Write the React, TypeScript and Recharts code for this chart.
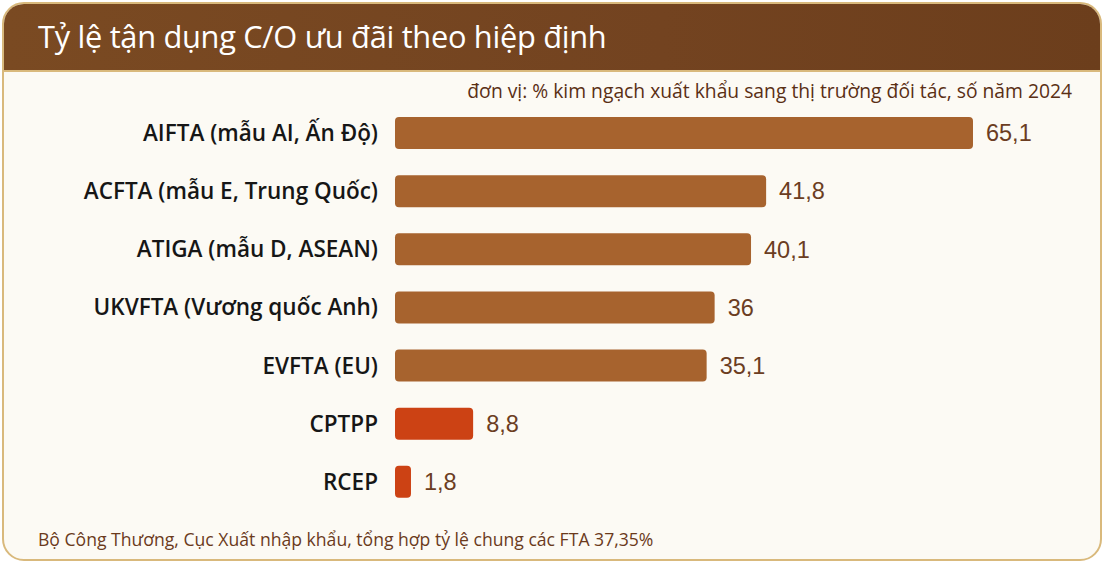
import React from 'react';
import { BarChart, Bar, XAxis, YAxis, Cell, LabelList } from 'recharts';

// Tỷ lệ tận dụng C/O ưu đãi, năm 2024 (%)
const agreements = [
    'AIFTA (mẫu AI, Ấn Độ)',
    'ACFTA (mẫu E, Trung Quốc)',
    'ATIGA (mẫu D, ASEAN)',
    'UKVFTA (Vương quốc Anh)',
    'EVFTA (EU)',
    'CPTPP',
    'RCEP'
];
const utilisation = [65.1, 41.8, 40.1, 36, 35.1, 8.8, 1.8];
const highlighted = [false, false, false, false, false, true, true];

const BROWN = '#a7632e';
const RED = '#cc4214';

const data = agreements.map((name, i) => ({
    name,
    value: utilisation[i],
    hot: highlighted[i]
}));

const formatValue = (v: any) => String(v).replace('.', ',');

const App: React.FC = () => {
    return (
        <div style={{ position: 'absolute', left: 0, top: 0, width: 1104, height: 564, background: '#ffffff' }}>
            <div
                style={{
                    position: 'absolute',
                    left: 2,
                    top: 2,
                    width: 1096,
                    height: 555,
                    border: '2px solid #d9b97c',
                    borderRadius: 22,
                    overflow: 'hidden',
                    background: '#fcfaf4'
                }}
            >
                <div
                    style={{
                        height: 66,
                        background: 'linear-gradient(90deg, #7a4a22 0%, #734320 60%, #6c3e1c 100%)',
                        borderBottom: '2px solid #d9b97c'
                    }}
                >
                    <div
                        style={{
                            position: 'absolute',
                            left: 34,
                            top: 11,
                            color: '#ffffff',
                            fontFamily: '"Open Sans", sans-serif',
                            fontSize: 30.8,
                            fontWeight: 500,
                            letterSpacing: -0.3
                        }}
                    >
                        Tỷ lệ tận dụng C/O ưu đãi theo hiệp định
                    </div>
                </div>
                <div
                    style={{
                        position: 'absolute',
                        right: 28,
                        top: 73,
                        color: '#5a2f14',
                        fontFamily: '"Open Sans", sans-serif',
                        fontSize: 19.3,
                        fontWeight: 500
                    }}
                >
                    đơn vị: % kim ngạch xuất khẩu sang thị trường đối tác, số năm 2024
                </div>
                <div
                    style={{
                        position: 'absolute',
                        left: 34,
                        top: 523,
                        color: '#6b3a1c',
                        fontFamily: '"Open Sans", sans-serif',
                        fontSize: 17.6
                    }}
                >
                    Bộ Công Thương, Cục Xuất nhập khẩu, tổng hợp tỷ lệ chung các FTA 37,35%
                </div>
            </div>
            <div style={{ position: 'absolute', left: 0, top: 0 }}>
                <BarChart
                    width={1104}
                    height={564}
                    data={data}
                    layout="vertical"
                    margin={{ top: 104, right: 87.5, left: 10, bottom: 53 }}
                    barCategoryGap={0}
                >
                    <XAxis type="number" domain={[0, 70]} hide />
                    <YAxis
                        type="category"
                        dataKey="name"
                        width={385}
                        axisLine={false}
                        tickLine={false}
                        tickSize={0}
                        tickMargin={17}
                        tick={{
                            fontSize: 22.5,
                            fill: '#161616',
                            fontWeight: 600,
                            fontFamily: '"Open Sans", sans-serif'
                        }}
                    />
                    <Bar dataKey="value" barSize={32} radius={4} isAnimationActive={false}>
                        {data.map((d, i) => (
                            <Cell key={i} fill={d.hot ? RED : BROWN} />
                        ))}
                        <LabelList
                            dataKey="value"
                            position="right"
                            offset={13}
                            formatter={formatValue}
                            style={{
                                fontSize: 23.5,
                                fill: '#6b3d22',
                                fontFamily: '"Liberation Sans", Arial, sans-serif'
                            }}
                        />
                    </Bar>
                </BarChart>
            </div>
        </div>
    );
};

export default App;
